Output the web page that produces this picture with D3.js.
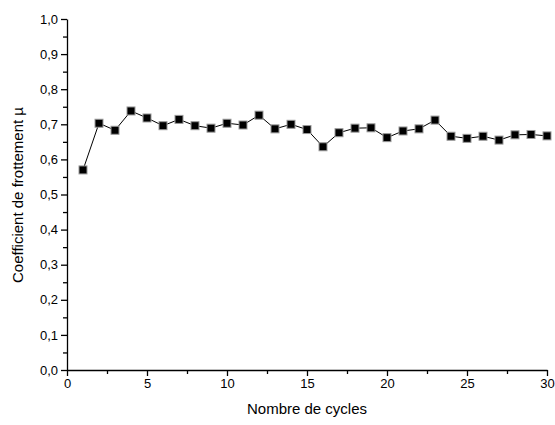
<!DOCTYPE html>
<html><head><meta charset="utf-8">
<script src="https://cdn.jsdelivr.net/npm/d3@7"></script>
<style>body{margin:0;background:#fff}svg{display:block}</style>
</head><body>
<script>
const cycles = d3.range(1, 31);
const mu = [0.570,0.703,0.683,0.738,0.718,0.696,0.714,0.696,0.689,0.703,
            0.698,0.726,0.687,0.700,0.685,0.636,0.676,0.689,0.690,0.662,
            0.681,0.687,0.712,0.666,0.660,0.666,0.655,0.670,0.671,0.667];
const xTicks = [0,5,10,15,20,25,30];
const yTicks = [0,0.1,0.2,0.3,0.4,0.5,0.6,0.7,0.8,0.9,1.0];
const xLabel = "Nombre de cycles";
const yLabel = "Coefficient de frottement µ";

const W = 555, H = 425;
const svg = d3.select("body").append("svg").attr("width", W).attr("height", H);
const x = d3.scaleLinear().domain([0,30]).range([67,547]);
const y = d3.scaleLinear().domain([0,1]).range([370,19]);
const font = "'Liberation Sans', Arial, sans-serif";
const fmt = d => d3.format(".1f")(d).replace(".", ",");

const xa = svg.append("g").attr("transform","translate(0,370)")
  .call(d3.axisBottom(x).tickValues(xTicks).tickSize(6).tickPadding(3).tickSizeOuter(0));
svg.append("g").attr("transform","translate(0,370)")
  .call(d3.axisBottom(x).tickValues(d3.range(2.5,30,5)).tickSize(4).tickFormat("").tickSizeOuter(0))
  .select(".domain").remove();
const ya = svg.append("g").attr("transform","translate(67,0)")
  .call(d3.axisLeft(y).tickValues(yTicks).tickFormat(fmt).tickSize(6).tickPadding(3).tickSizeOuter(0));
svg.append("g").attr("transform","translate(67,0)")
  .call(d3.axisLeft(y).tickValues(d3.range(0.05,1,0.1)).tickSize(4).tickFormat("").tickSizeOuter(0))
  .select(".domain").remove();
svg.selectAll(".tick text").attr("font-family", font).attr("font-size", 13).attr("fill","#000");
svg.selectAll(".domain, .tick line").attr("stroke","#000").attr("stroke-width",1.3);

svg.append("text").attr("x", 307).attr("y", 414).attr("text-anchor","middle")
  .attr("font-family", font).attr("font-size", 15).text(xLabel);
svg.append("text").attr("transform","translate(23,195) rotate(-90)").attr("text-anchor","middle")
  .attr("font-family", font).attr("font-size", 15).text(yLabel);

const line = d3.line().x((d,i)=>x(cycles[i])).y(d=>y(d));
svg.append("path").datum(mu).attr("d", line).attr("fill","none").attr("stroke","#000").attr("stroke-width",1);
svg.selectAll("rect.pt").data(mu).enter().append("rect").attr("class","pt")
  .attr("x",(d,i)=>x(cycles[i])-4).attr("y",d=>y(d)-4).attr("width",8).attr("height",8)
  .attr("fill","#000").attr("stroke","#999").attr("stroke-width",1);
</script>
</body></html>
